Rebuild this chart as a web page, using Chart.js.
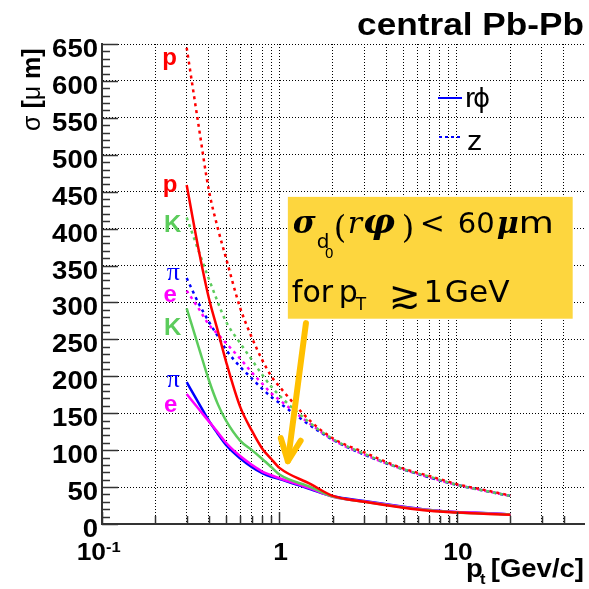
<!DOCTYPE html>
<html><head><meta charset="utf-8">
<script src="https://cdn.jsdelivr.net/npm/chart.js@4/dist/chart.umd.min.js"></script>
<style>html,body{margin:0;padding:0;background:#fff;overflow:hidden}canvas{display:block}</style>
</head><body>
<canvas id="c" width="589" height="589"></canvas>
<script>
// ---------------- data ----------------
const ptValues = [0.3,0.35,0.4,0.45,0.5,0.6,0.7,0.8,0.9,1,1.5,2,3,5,7,10,15,20];
const pRphi  = [459,372,306,261,220,159,126,102,88,76,54,38,30,22,18,15.5,13.5,12.5];
const kRphi  = [292,240,195,162,140,113,100,88,77,67,50,37,30,22.5,18.5,15.5,14,12.8];
const piRphi = [192,164,140,122,107,89,77,69,64,61,47,37.5,31,23.5,19,16,14.5,13];
const eRphi  = [176,156,139,124,110,92,80,71,66,62,48,37,30.5,23,19,16.2,14.5,13];
const pZ  = [645,540,452,400,360,293,252,222,200,186,139,116,97,75,65,54,45,38.5];
const kZ  = [415,370,332,300,274,245,222,202,186,174,136,115,95,74,64,53,44,38];
const piZ = [333,299,274,254,236,213,197,183,172,164,133,114,94,74,63,53,44,38];
const eZ  = [316,292,270,257,245,224,205,190,177,168,135,114,94,74,63,53,44,38];

const xGridValues = [0.1,0.2,0.3,0.4,0.5,0.6,0.7,0.8,0.9,1,2,3,4,5,6,7,8,9,10,20,30,40];
const xMajorValues = [0.1,1,10];
const yTickValues = [0,50,100,150,200,250,300,350,400,450,500,550,600,650];

const particleLabels = [
  {t:'p', c:'#ff0000', x:0.240, y:622, f:'bold 24px "Liberation Sans"'},
  {t:'p', c:'#ff0000', x:0.242, y:450, f:'bold 24px "Liberation Sans"'},
  {t:'K', c:'#5ccc5c', x:0.250, y:396, f:'bold 24px "Liberation Sans"'},
  {t:'π', c:'#0000ff', x:0.252, y:331, f:'26px "Liberation Serif"'},
  {t:'e', c:'#ff00ff', x:0.242, y:300, f:'bold 24px "Liberation Sans"'},
  {t:'K', c:'#5ccc5c', x:0.250, y:256, f:'bold 24px "Liberation Sans"'},
  {t:'π', c:'#0000ff', x:0.252, y:185, f:'26px "Liberation Serif"'},
  {t:'e', c:'#ff00ff', x:0.244, y:151, f:'bold 24px "Liberation Sans"'}
];

const RED='#ff0000', GREEN='#5ccc5c', BLUE='#0000ff', MAG='#ff00ff';
const series = [
  {d:pRphi, c:RED, dash:false}, {d:kRphi, c:GREEN, dash:false},
  {d:eRphi, c:MAG, dash:false}, {d:piRphi, c:BLUE, dash:false},
  {d:pZ, c:RED, dash:true}, {d:kZ, c:GREEN, dash:true},
  {d:eZ, c:MAG, dash:true}, {d:piZ, c:BLUE, dash:true}
];

const SX = 1.1;
function txt(ctx, s, x, y, font, color, align, sx) {
  ctx.save();
  ctx.font = font; ctx.fillStyle = color; ctx.textBaseline = 'alphabetic'; ctx.textAlign = 'left';
  const w = ctx.measureText(s).width * sx;
  const x0 = align === 'right' ? x - w : (align === 'center' ? x - w / 2 : x);
  ctx.translate(x0, y); ctx.scale(sx, 1); ctx.fillText(s, 0, 0);
  ctx.restore();
  return w;
}

const overlay = {
  id: 'overlay',
  beforeDraw(chart) {
    const c = chart.ctx; c.save(); c.fillStyle = '#fff'; c.fillRect(0, 0, chart.width, chart.height); c.restore();
  },
  afterDraw(chart) {
    const ctx = chart.ctx, xs = chart.scales.x, ys = chart.scales.y, ca = chart.chartArea;
    // inner ticks
    ctx.save(); ctx.strokeStyle = '#333'; ctx.lineWidth = 1.5;
    for (let v = 0; v <= 650; v += 10) {
      const py = Math.round(ys.getPixelForValue(v)) + 0.5;
      const len = (v % 50 === 0) ? 16 : 8;
      ctx.beginPath(); ctx.moveTo(ca.left, py); ctx.lineTo(ca.left + len, py); ctx.stroke();
    }
    xGridValues.forEach(v => {
      const px = Math.round(xs.getPixelForValue(v)) + 0.5;
      const len = xMajorValues.includes(v) ? 12 : 8;
      ctx.beginPath(); ctx.moveTo(px, ca.bottom); ctx.lineTo(px, ca.bottom - len); ctx.stroke();
    });
    ctx.restore();

    // y tick labels
    yTickValues.forEach(v => {
      txt(ctx, String(v), ca.left - 4, ys.getPixelForValue(v) + 13, 'bold 25px "Liberation Sans"', '#000', 'right', SX);
    });
    // x tick labels
    const xl = xs.getPixelForValue(0.1);
    txt(ctx, '10', xl + 4, 560, 'bold 24px "Liberation Sans"', '#000', 'right', SX);
    txt(ctx, '-1', xl + 4, 552, 'bold 15px "Liberation Sans"', '#000', 'left', SX);
    txt(ctx, '1', xs.getPixelForValue(1) + 1, 560, 'bold 24px "Liberation Sans"', '#000', 'center', SX);
    txt(ctx, '10', xs.getPixelForValue(10) + 1, 560, 'bold 24px "Liberation Sans"', '#000', 'center', SX);

    // axis titles
    txt(ctx, 'p', 466, 577, 'bold 25px "Liberation Sans"', '#000', 'left', SX);
    txt(ctx, 't', 480, 584, 'bold 15px "Liberation Sans"', '#000', 'left', SX);
    txt(ctx, '[Gev/c]', 584, 577, 'bold 25px "Liberation Sans"', '#000', 'right', SX);

    ctx.save();
    ctx.translate(40, 131); ctx.rotate(-Math.PI / 2);
    let ox = 0;
    const parts = [['σ', '25px "Liberation Sans"'], [' [', 'bold 25px "Liberation Sans"'], ['μ', '25px "Liberation Sans"'], [' m]', 'bold 25px "Liberation Sans"']];
    parts.forEach(([s, f]) => { ox += txt(ctx, s, ox, 0, f, '#000', 'left', 1); });
    ctx.restore();

    // title
    txt(ctx, 'central Pb-Pb', 584, 35, 'bold 32px "Liberation Sans"', '#000', 'right', SX);

    // particle labels
    particleLabels.forEach(l => {
      txt(ctx, l.t, xs.getPixelForValue(l.x), ys.getPixelForValue(l.y), l.f, l.c, 'center', 1);
    });

    // legend
    ctx.save();
    ctx.strokeStyle = BLUE; ctx.lineWidth = 2;
    ctx.beginPath(); ctx.moveTo(438, 98); ctx.lineTo(462, 98); ctx.stroke();
    ctx.setLineDash([3, 3]);
    ctx.beginPath(); ctx.moveTo(439, 137); ctx.lineTo(462, 137); ctx.stroke();
    ctx.restore();
    txt(ctx, 'r', 465, 107, '28px "Liberation Sans"', '#000', 'left', SX);
    txt(ctx, 'ϕ', 473, 107, '26px "DejaVu Sans"', '#000', 'left', 1);
    txt(ctx, 'z', 467, 150, '28px "Liberation Sans"', '#000', 'left', SX);

    // annotation box
    const bx = xs.getPixelForValue(1.115), bx1 = xs.getPixelForValue(44.9);
    const by = ys.getPixelForValue(443), by1 = ys.getPixelForValue(278);
    ctx.save(); ctx.fillStyle = '#fdd63e'; ctx.fillRect(bx, by, bx1 - bx, by1 - by); ctx.restore();
    const B1 = by + 36, B2 = by + 105, K = '#000';
    txt(ctx, 'σ', bx + 5, B1, 'bold italic 31px "DejaVu Serif"', K, 'left', 1);
    txt(ctx, 'd', bx + 29, B1 + 15, '20px "DejaVu Sans"', K, 'left', 1);
    txt(ctx, '0', bx + 37, B1 + 25, '14px "DejaVu Sans"', K, 'left', 1);
    txt(ctx, '(', bx + 46, B1 + 5, '32px "DejaVu Serif"', K, 'left', 1);
    txt(ctx, 'r', bx + 60, B1, 'italic 30px "DejaVu Serif"', K, 'left', 1);
    txt(ctx, 'φ', bx + 75, B1, 'bold italic 34px "DejaVu Serif"', K, 'left', 1.05);
    txt(ctx, ')', bx + 114, B1 + 5, '32px "DejaVu Serif"', K, 'left', 1);
    txt(ctx, '<', bx + 132, B1, '30px "DejaVu Serif"', K, 'left', 1);
    txt(ctx, '60', bx + 170, B1, '29px "DejaVu Sans"', K, 'left', 1);
    txt(ctx, 'μ', bx + 209, B1, 'bold italic 30px "DejaVu Serif"', K, 'left', 1);
    txt(ctx, 'm', bx + 231, B1, '30px "DejaVu Sans"', K, 'left', 1.2);
    txt(ctx, 'for', bx + 4, B2, '30px "DejaVu Sans"', K, 'left', 1);
    txt(ctx, 'p', bx + 51, B2, '30px "DejaVu Sans"', K, 'left', 1);
    txt(ctx, 'T', bx + 68, B2 + 8, '17px "DejaVu Sans"', K, 'left', 1);
    txt(ctx, '≳', bx + 101, B2 + 6, '38px "DejaVu Sans"', K, 'left', 1);
    txt(ctx, '1', bx + 136, B2, '30px "DejaVu Sans"', K, 'left', 1);
    txt(ctx, 'GeV', bx + 157, B2, '30px "DejaVu Sans"', K, 'left', 1.04);

    // arrow
    const ax0 = xs.getPixelForValue(1.41), ay0 = ys.getPixelForValue(272);
    const ax1 = xs.getPixelForValue(1.115), ay1 = ys.getPixelForValue(85);
    const L = Math.hypot(ax1 - ax0, ay1 - ay0), ux = (ax1 - ax0) / L, uy = (ay1 - ay0) / L;
    ctx.save(); ctx.strokeStyle = '#ffc000'; ctx.lineWidth = 6; ctx.lineCap = 'round'; ctx.lineJoin = 'round';
    ctx.beginPath(); ctx.moveTo(ax0, ay0); ctx.lineTo(ax1, ay1); ctx.stroke();
    ctx.beginPath();
    ctx.moveTo(ax1 - 22 * ux - 10 * uy, ay1 - 22 * uy + 10 * ux);
    ctx.lineTo(ax1, ay1);
    ctx.lineTo(ax1 - 22 * ux + 10 * uy, ay1 - 22 * uy - 10 * ux);
    ctx.stroke();
    ctx.restore();
  }
};

const datasets = series.map(s => ({
  data: ptValues.map((x, i) => ({x: x, y: s.d[i]})),
  borderColor: s.c,
  borderWidth: 2.5,
  borderDash: s.dash ? [3, 4] : [],
  pointRadius: 0,
  fill: false,
  cubicInterpolationMode: 'monotone'
}));

new Chart(document.getElementById('c'), {
  type: 'line',
  data: {datasets: datasets},
  options: {
    responsive: false,
    animation: false,
    devicePixelRatio: 1,
    layout: {padding: {left: 102, top: 44, right: 5, bottom: 65}},
    plugins: {legend: {display: false}, tooltip: {enabled: false}},
    scales: {
      x: {
        type: 'logarithmic', min: 0.1, max: 52,
        afterBuildTicks: s => { s.ticks = xGridValues.map(v => ({value: v})); },
        afterFit: s => { s.height = 0; },
        ticks: {display: false},
        grid: {color: '#000', lineWidth: 1, drawTicks: false},
        border: {display: true, color: '#333', width: 2, dash: [1, 2]}
      },
      y: {
        type: 'linear', min: 0, max: 650,
        afterBuildTicks: s => { s.ticks = yTickValues.map(v => ({value: v})); },
        afterFit: s => { s.width = 0; },
        ticks: {display: false},
        grid: {color: '#000', lineWidth: 1, drawTicks: false},
        border: {display: true, color: '#333', width: 2, dash: [1, 2]}
      }
    }
  },
  plugins: [overlay]
});
</script>
</body></html>
